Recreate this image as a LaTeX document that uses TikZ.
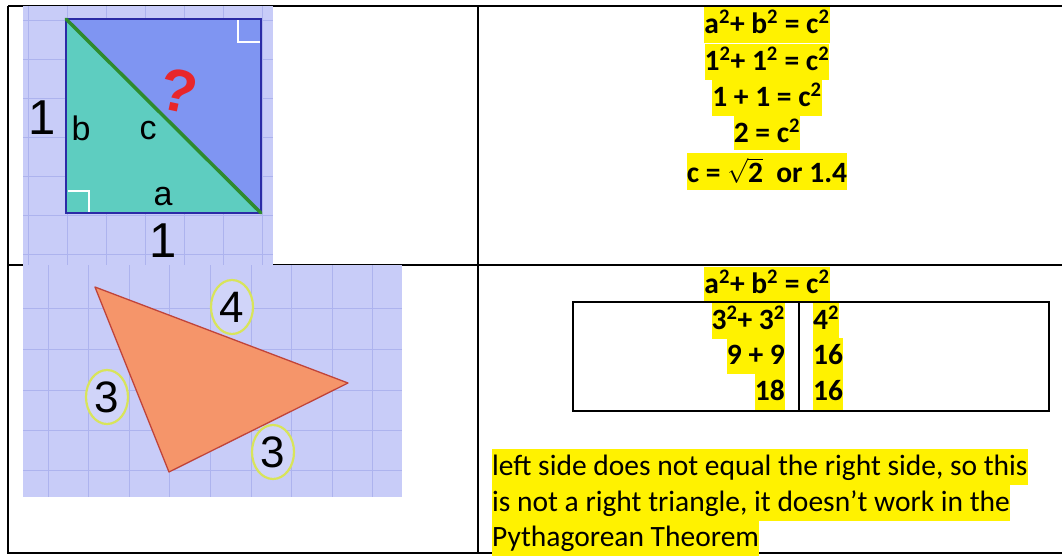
\documentclass[tikz,border=0pt]{standalone}
\usepackage{fontspec}
\setmainfont{Carlito}
\newfontfamily\picfont{Liberation Sans}
\usepackage{amsmath}
\usetikzlibrary{shapes.geometric}
\definecolor{gridbg}{HTML}{C8CCF8}
\definecolor{gridln}{HTML}{ADB3EE}
\definecolor{sqblue}{HTML}{7F95F2}
\definecolor{sqteal}{HTML}{5ECDC0}
\definecolor{sqedge}{HTML}{2B2BA6}
\definecolor{diag}{HTML}{2E8B2E}
\definecolor{qmark}{HTML}{E8262A}
\definecolor{triorange}{HTML}{F5956A}
\definecolor{triedge}{HTML}{C0443A}
\definecolor{ringcol}{HTML}{D8E45A}

\begin{document}
\begin{tikzpicture}[x=1pt, y=-1pt,
        hl/.style={fill=yellow, inner sep=0pt, text height=26pt, text depth=10pt, font=\fontsize{29.5}{36}\selectfont\bfseries},
        plain/.style={hl, font=\fontsize{29.5}{36}\selectfont},
        lbl/.style={inner sep=0pt, font=\picfont\fontsize{#1}{#1}\selectfont},
        ring/.style={ellipse, draw=ringcol, line width=2.2pt, fill=gridbg!85!white, minimum width=42pt, minimum height=54pt, inner sep=0pt, font=\picfont\fontsize{44}{44}\selectfont},
        rule/.style={line width=2.2pt}]
        \useasboundingbox (0,0) rectangle (1062,555);

        % Table rules
        \draw[rule] (8,6) -- (1062,6);
        \draw[rule] (8,265) -- (1062,265);
        \draw[line width=1.4pt] (8,553) -- (1062,553);
        \draw[rule] (8,6) -- (8,554);
        \draw[rule] (478,6) -- (478,554);

        % Picture 1: unit square
        \fill[gridbg] (23,6) rectangle (273,265);
        \foreach \x in {28,67,...,262}
            \draw[gridln, line width=1pt] (\x,6) -- (\x,265);
        \foreach \y in {20,59,...,254}
            \draw[gridln, line width=1pt] (23,\y) -- (273,\y);
        \coordinate (TL) at (66,19);
        \coordinate (TR) at (261,19);
        \coordinate (BL) at (66,213);
        \coordinate (BR) at (261,213);
        \fill[sqblue] (TL) rectangle (BR);
        \fill[sqteal] (TL) -- (BL) -- (BR) -- cycle;
        \draw[white, line width=1.5pt] (238,20) -- (238,42) -- (260,42);
        \draw[white, line width=1.5pt] (68,191) -- (89,191) -- (89,212);
        \draw[sqedge, line width=1.5pt] (TL) rectangle (BR);
        \draw[diag, line width=3.5pt, line cap=round] (TL) -- (BR);

        \node[lbl=49] (side1) at (42,118) {1};
        \node[lbl=49] (base1) at (163,241) {1};
        \node[lbl=34] (lb) at (81,128) {b};
        \node[lbl=34] (lc) at (148,131) {c};
        \node[lbl=34] (la) at (163,197) {a};
        \node[lbl=60, text=qmark, rotate=-12, text height=44pt, text depth=0pt, font=\picfont\bfseries\fontsize{60}{60}\selectfont] (q) at (179,90) {?};

        % Picture 2: triangle 3, 3, 4
        \fill[gridbg] (23,265) rectangle (402,497);
        \foreach \x in {48,88.6,...,375}
            \draw[gridln, line width=1pt] (\x,265) -- (\x,497);
        \foreach \y in {308,349,390,430,470}
            \draw[gridln, line width=1pt] (23,\y) -- (402,\y);
        \coordinate (P) at (95,287);
        \coordinate (Q) at (348,383);
        \coordinate (R) at (169,472);
        \draw[triedge, fill=triorange, line width=1.3pt, line join=round] (P) -- (Q) -- (R) -- cycle;

        \node[ring] (four) at (232,307) {4};
        \node[ring] (threeL) at (107,397) {3};
        \node[ring] (threeB) at (273,452) {3};

        % Working for the square
        \node[hl, anchor=base] (e1) at (767,33) {a\textsuperscript{2}+ b\textsuperscript{2} = c\textsuperscript{2}};
        \node[hl, anchor=base] (e2) at (767,70) {1\textsuperscript{2}+ 1\textsuperscript{2} = c\textsuperscript{2}};
        \node[hl, anchor=base] (e3) at (767,106) {1 + 1 = c\textsuperscript{2}};
        \node[hl, anchor=base, text depth=8pt] (e4) at (767,142) {2 = c\textsuperscript{2}};
        \node[hl, anchor=base, text height=29pt, text depth=8pt] (e5) at (767,182) {c = $\sqrt{\text{\bfseries 2}}$\ \ or 1.4};

        % Working for the triangle
        \node[hl, anchor=base] (f1) at (767,293) {a\textsuperscript{2}+ b\textsuperscript{2} = c\textsuperscript{2}};
        \draw[line width=1.8pt] (573,302) rectangle (1049,411);
        \draw[line width=1.8pt] (799,302) -- (799,411);
        \node[hl, anchor=base east] (l1) at (785,329) {3\textsuperscript{2}+ 3\textsuperscript{2}};
        \node[hl, anchor=base east] (l2) at (785,364) {9 + 9};
        \node[hl, anchor=base east] (l3) at (785,400) {18};
        \node[hl, anchor=base west] (r1) at (813,329) {4\textsuperscript{2}};
        \node[hl, anchor=base west] (r2) at (813,364) {16};
        \node[hl, anchor=base west] (r3) at (813,400) {16};

        \node[plain, anchor=base west] (p1) at (492,475) {left side does not equal the right side, so this};
        \node[plain, anchor=base west] (p2) at (492,511) {is not a right triangle, it doesn’t work in the};
        \node[plain, anchor=base west] (p3) at (492,546) {Pythagorean Theorem};
    \end{tikzpicture}
\end{document}
